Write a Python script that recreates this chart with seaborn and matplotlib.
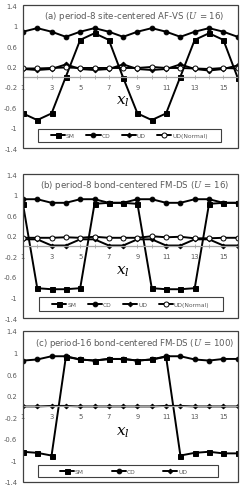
"""Three-panel spin/charge profile along x_l, Excel-style line charts."""

import matplotlib

matplotlib.use("Agg")
import matplotlib.pyplot as plt
import numpy as np
import seaborn as sns
from matplotlib.patches import Rectangle
from matplotlib.ticker import FuncFormatter, MultipleLocator

sites = list(range(1, 17))

# (a) period-8 site-centered AF-VS (U = 16)
a_sm = [-0.72, -0.85, -0.72, 0.0, 0.72, 0.85, 0.72, -0.02,
        -0.72, -0.85, -0.72, 0.0, 0.72, 0.85, 0.72, -0.02]
a_cd = [0.88, 0.95, 0.88, 0.78, 0.88, 0.95, 0.88, 0.78,
        0.88, 0.95, 0.88, 0.78, 0.88, 0.95, 0.88, 0.78]
a_ud = [0.15, 0.13, 0.15, 0.24, 0.15, 0.13, 0.15, 0.24,
        0.15, 0.13, 0.15, 0.24, 0.15, 0.12, 0.15, 0.22]
a_udn = [0.16, 0.16, 0.17, 0.18, 0.17, 0.17, 0.17, 0.17,
         0.17, 0.19, 0.17, 0.17, 0.16, 0.15, 0.17, 0.16]

# (b) period-8 bond-centered FM-DS (U = 16)
b_sm = [0.82, -0.82, -0.84, -0.84, -0.82, 0.82, 0.84, 0.84,
        0.82, -0.82, -0.84, -0.84, -0.82, 0.82, 0.84, 0.84]
b_cd = [0.91, 0.91, 0.84, 0.84, 0.91, 0.91, 0.84, 0.84,
        0.91, 0.91, 0.84, 0.84, 0.91, 0.91, 0.84, 0.84]
b_ud = [0.13, 0.13, 0.01, 0.01, 0.13, 0.13, 0.01, 0.01,
        0.13, 0.13, 0.01, 0.01, 0.13, 0.13, 0.01, 0.01]
b_udn = [0.16, 0.16, 0.16, 0.17, 0.16, 0.18, 0.16, 0.16,
         0.16, 0.19, 0.17, 0.18, 0.15, 0.15, 0.16, 0.16]

# (c) period-16 bond-centered FM-DS (U = 100)
c_sm = [-0.84, -0.86, -0.91, 0.92, 0.87, 0.85, 0.88, 0.88,
        0.85, 0.87, 0.92, -0.91, -0.86, -0.84, -0.87, -0.87]
c_cd = [0.85, 0.87, 0.93, 0.93, 0.87, 0.85, 0.88, 0.88,
        0.85, 0.87, 0.93, 0.93, 0.87, 0.85, 0.88, 0.88]
c_ud = [0.0, 0.0, 0.01, 0.01, 0.0, 0.0, 0.0, 0.0,
        0.0, 0.0, 0.01, 0.01, 0.0, 0.0, 0.0, 0.0]

titles = [
    "(a) period-8 site-centered AF-VS ($U$ = 16)",
    "(b) period-8 bond-centered FM-DS ($U$ = 16)",
    "(c) period-16 bond-centered FM-DS ($U$ = 100)",
]

GRAY = "#595959"
styles = {
    "SM": dict(marker="s", markersize=3.6, markerfacecolor="black"),
    "CD": dict(marker="o", markersize=3.4, markerfacecolor="black"),
    "UD": dict(marker="D", markersize=2.4, markerfacecolor="black"),
    "UD(Normal)": dict(marker="o", markersize=3.6, markerfacecolor="white"),
}

sns.set_theme(style="white")
plt.rcParams["font.family"] = ["DejaVu Sans"]
plt.rcParams["mathtext.fontset"] = "dejavuserif"

fig = plt.figure(figsize=(2.44, 4.89), dpi=100)
axes = [
    fig.add_axes([0.094, 0.695, 0.880, 0.2924]),
    fig.add_axes([0.094, 0.3476, 0.880, 0.2945]),
    fig.add_axes([0.094, 0.0123, 0.880, 0.309]),
]

panels = [
    {"SM": a_sm, "CD": a_cd, "UD": a_ud, "UD(Normal)": a_udn},
    {"SM": b_sm, "CD": b_cd, "UD": b_ud, "UD(Normal)": b_udn},
    {"SM": c_sm, "CD": c_cd, "UD": c_ud},
]

# legend frame (x0, y0, w, h) in axes coords
legend_boxes = [
    (0.068, 0.043, 0.855, 0.088),
    (0.075, 0.048, 0.855, 0.095),
    (0.070, 0.034, 0.837, 0.076),
]

for ax, title, series, box in zip(axes, titles, panels, legend_boxes):
    for name, vals in series.items():
        sns.lineplot(x=sites, y=vals, ax=ax, color="black", linewidth=1.4,
                     markeredgecolor="black", markeredgewidth=0.7,
                     label=name, **styles[name])

    ax.set_xlim(1, 16)
    ax.set_ylim(-1.4, 1.4)
    ax.set_xlabel("")
    ax.set_ylabel("")

    ax.set_yticks(np.arange(-1.4, 1.41, 0.4))
    ax.yaxis.set_major_formatter(FuncFormatter(lambda v, p: f"{round(v, 1):g}"))
    ax.set_xticks(range(1, 16, 2))
    ax.xaxis.set_minor_locator(MultipleLocator(1))
    ax.tick_params(axis="y", length=0, pad=4, labelsize=4.9, labelcolor=GRAY)
    ax.tick_params(axis="x", which="both", direction="inout", length=3,
                   width=0.6, color="#a6a6a6", pad=3.5, labelsize=4.9,
                   labelcolor=GRAY, bottom=True)

    for side in ["top", "right", "left"]:
        ax.spines[side].set_visible(False)
    ax.spines["bottom"].set_position(("data", 0))
    ax.spines["bottom"].set_color("#a6a6a6")
    ax.spines["bottom"].set_linewidth(0.9)
    ax.add_patch(Rectangle((0, 0), 1, 1, transform=ax.transAxes, fill=False,
                           edgecolor="#404040", linewidth=0.9, clip_on=False,
                           zorder=5))

    ax.text(0.52, 0.925, title, transform=ax.transAxes, ha="center",
            va="center", fontsize=6.2, color=GRAY)
    ax.text(8.0, -0.47, "$x_l$", ha="center", va="center", fontsize=11,
            color="black")

    x0, y0, w, h = box
    ax.add_patch(Rectangle((x0, y0), w, h, transform=ax.transAxes,
                           facecolor="white", edgecolor="#404040",
                           linewidth=0.8, zorder=6))
    if len(series) == 4:
        leg = ax.legend(loc="center", bbox_to_anchor=(x0 + w / 2, y0 + h / 2),
                        ncol=4, fontsize=4.3, handlelength=2.4,
                        handletextpad=0.15, columnspacing=1.9, borderpad=0.2,
                        frameon=False)
    else:
        leg = ax.legend(loc="center", bbox_to_anchor=(x0 + w / 2 - 0.02,
                                                      y0 + h / 2),
                        ncol=3, fontsize=4.3, handlelength=2.4,
                        handletextpad=0.15, columnspacing=4.6, borderpad=0.2,
                        frameon=False)
    leg.set_zorder(7)
    for txt in leg.get_texts():
        txt.set_color(GRAY)

fig.savefig("out.png", dpi=100)
